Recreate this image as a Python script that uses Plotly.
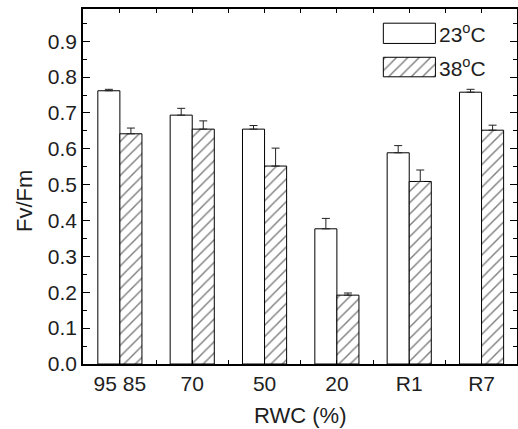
import plotly.graph_objects as go

categories = ["95 85", "70", "50", "20", "R1", "R7"]
fv_23 = [0.762, 0.694, 0.655, 0.377, 0.589, 0.758]
err_23 = [0.004, 0.019, 0.010, 0.029, 0.020, 0.008]
fv_38 = [0.642, 0.655, 0.552, 0.192, 0.509, 0.652]
err_38 = [0.016, 0.023, 0.050, 0.006, 0.032, 0.014]
series_names = ["23<sup>o</sup>C", "38<sup>o</sup>C"]
y_ticks = [0.0, 0.1, 0.2, 0.3, 0.4, 0.5, 0.6, 0.7, 0.8, 0.9]

xpos = list(range(1, len(categories) + 1))
between = [p + 0.5 for p in xpos[:-1]]

FONT = "Liberation Sans, Arial, sans-serif"
TXT = "#1e1e1e"
HATCH = dict(shape="/", size=8, solidity=0.18, fgcolor="black", bgcolor="white")

fig = go.Figure()
fig.add_trace(go.Bar(
    x=xpos, y=fv_23, name="23C",
    marker=dict(color="white", line=dict(color="black", width=1)),
    error_y=dict(type="data", symmetric=False, array=err_23,
                 arrayminus=[0] * len(err_23), color="#222", thickness=1, width=4),
    showlegend=False,
))
fig.add_trace(go.Bar(
    x=xpos, y=fv_38, name="38C",
    marker=dict(color="white", line=dict(color="black", width=1), pattern=HATCH),
    error_y=dict(type="data", symmetric=False, array=err_38,
                 arrayminus=[0] * len(err_38), color="#222", thickness=1, width=4),
    showlegend=False,
))

# legend keys drawn on an overlay axis spanning the plot area (0..1)
leg_x = [0.692, 0.812]
leg_rows = [(0.903, 0.960), (0.809, 0.864)]
for i, (y0, y1) in enumerate(leg_rows):
    kw = {}
    if i == 1:
        kw["fillpattern"] = HATCH
    fig.add_trace(go.Scatter(
        x=[leg_x[0], leg_x[1], leg_x[1], leg_x[0], leg_x[0]],
        y=[y0, y0, y1, y1, y0],
        mode="lines", fill="toself", fillcolor="white",
        line=dict(color="black", width=1),
        xaxis="x2", yaxis="y2", showlegend=False, hoverinfo="skip", **kw,
    ))
    fig.add_annotation(
        x=0.815, y=(y0 + y1) / 2, xref="x2", yref="y2",
        text=series_names[i], showarrow=False, xanchor="left", yanchor="middle",
        font=dict(family=FONT, size=21, color=TXT),
    )

# axis titles
fig.add_annotation(x=-0.136, y=0.459, xref="paper", yref="paper", text="Fv/Fm",
                   textangle=-90, showarrow=False, xanchor="center", yanchor="middle",
                   font=dict(family=FONT, size=22, color=TXT))
fig.add_annotation(x=0.5, y=-0.146, xref="paper", yref="paper", text="RWC (%)",
                   showarrow=False, xanchor="center", yanchor="middle",
                   font=dict(family=FONT, size=22, color=TXT))

fig.update_layout(
    width=518, height=429,
    margin=dict(l=83, r=1, t=9, b=65, autoexpand=False),
    paper_bgcolor="white", plot_bgcolor="white",
    barmode="group", bargap=0.39, bargroupgap=0,
    font=dict(family=FONT, color=TXT),
    xaxis=dict(
        range=[0.49, 6.49], tickmode="array", tickvals=xpos, ticktext=categories,
        ticks="inside", ticklen=4, tickcolor="black", tickwidth=1,
        minor=dict(tickmode="array", tickvals=between, ticks="inside", ticklen=4, tickcolor="black"),
        showline=True, linecolor="black", linewidth=1.5, mirror="ticks",
        showgrid=False, zeroline=False, automargin=False,
        tickfont=dict(size=21, color=TXT),
    ),
    yaxis=dict(
        range=[0, 0.99], tickmode="array", tickvals=y_ticks,
        ticktext=[f"{v:.1f}" for v in y_ticks],
        ticks="inside", ticklen=7, tickcolor="black", tickwidth=1,
        minor=dict(dtick=0.05, ticks="inside", ticklen=4, tickcolor="black"),
        showline=True, linecolor="black", linewidth=1.5, mirror="ticks",
        showgrid=False, zeroline=False, automargin=False,
        tickfont=dict(size=21, color=TXT),
    ),
    xaxis2=dict(overlaying="x", range=[0, 1], visible=False),
    yaxis2=dict(overlaying="y", range=[0, 1], visible=False),
)

fig.write_html("out.html", config={"displayModeBar": False},
               post_script="document.body.style.margin='0';document.body.style.overflow='hidden';")
